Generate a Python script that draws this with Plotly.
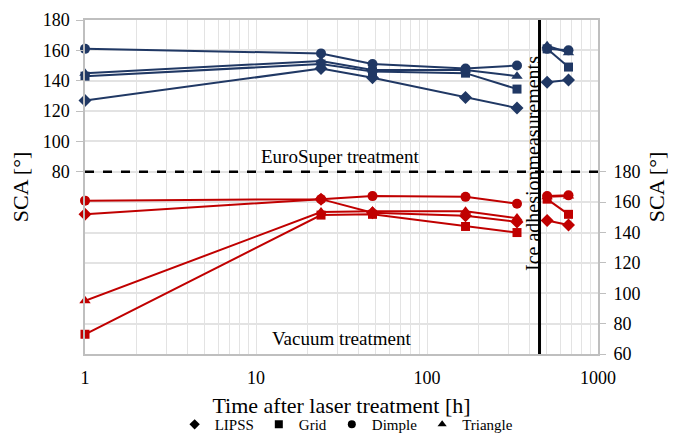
import plotly.graph_objects as go

times_pre = [1, 24, 48, 168, 336]
times_post = [504, 672]

euro_lipss_pre = [127, 148, 142, 129, 122]
euro_lipss_post = [139, 140.5]
euro_grid_pre = [143, 151, 146, 145, 134.5]
euro_grid_post = [161, 149]
euro_dimple_pre = [161, 158, 151, 148, 150]
euro_dimple_post = [161, 160]
euro_triangle_pre = [145, 153, 147, 147, 143]
euro_triangle_post = [163, 158.5]

vac_lipss_pre = [152, 162, 153, 151, 147]
vac_lipss_post = [148, 145]
vac_grid_pre = [73, 151.5, 152, 144, 140]
vac_grid_post = [162, 152]
vac_dimple_pre = [161, 162, 164, 163.5, 159]
vac_dimple_post = [164, 164.5]
vac_triangle_pre = [95, 153.5, 154, 154, 149.5]
vac_triangle_post = [163.5, 164]

series_names = ["LIPSS", "Grid", "Dimple", "Triangle"]
symbols = {"LIPSS": "diamond", "Grid": "square", "Dimple": "circle", "Triangle": "triangle-up"}
sizes = {"LIPSS": 10, "Grid": 9, "Dimple": 10, "Triangle": 10}

ice_time = 455
x_ticks = [1, 10, 100, 1000]
left_ticks = [80, 100, 120, 140, 160, 180]
right_ticks = [60, 80, 100, 120, 140, 160, 180]

BLUE = "#203864"
RED = "#C00000"
FONT = "Liberation Serif"

euro = {
    "LIPSS": (euro_lipss_pre, euro_lipss_post),
    "Grid": (euro_grid_pre, euro_grid_post),
    "Dimple": (euro_dimple_pre, euro_dimple_post),
    "Triangle": (euro_triangle_pre, euro_triangle_post),
}
vac = {
    "LIPSS": (vac_lipss_pre, vac_lipss_post),
    "Grid": (vac_grid_pre, vac_grid_post),
    "Dimple": (vac_dimple_pre, vac_dimple_post),
    "Triangle": (vac_triangle_pre, vac_triangle_post),
}

fig = go.Figure()

for data, color, yax in [(vac, RED, "y2"), (euro, BLUE, "y")]:
    for name in series_names:
        pre, post = data[name]
        for xs, ys in [(times_pre, pre), (times_post, post)]:
            fig.add_trace(go.Scatter(
                x=xs, y=ys, yaxis=yax, mode="lines+markers",
                line=dict(color=color, width=2),
                marker=dict(symbol=symbols[name], size=sizes[name], color=color),
                showlegend=False, hoverinfo="skip", cliponaxis=False,
            ))

for name in series_names:
    fig.add_trace(go.Scatter(
        x=[None], y=[None], mode="markers", name=name,
        marker=dict(symbol=symbols[name], size=8, color="black"),
    ))

minor_vals = [m * 10 ** d for d in range(3) for m in range(2, 10)]

fig.update_layout(
    width=668, height=428,
    margin=dict(l=77, r=78, t=12, b=82, autoexpand=False),
    plot_bgcolor="white", paper_bgcolor="white",
    font=dict(family=FONT, size=18, color="black"),
    xaxis=dict(
        type="log", range=[0, 3], automargin=False,
        tickvals=x_ticks, ticktext=[str(v) for v in x_ticks],
        showgrid=True, gridcolor="#E3E3E3", gridwidth=1,
        minor=dict(tickvals=minor_vals, showgrid=True, gridcolor="#E3E3E3", ticks=""),
        showline=True, linecolor="#BFBFBF", linewidth=1.5, mirror=True,
        ticks="", ticklabelstandoff=7, zeroline=False,
        title=dict(text="Time after laser treatment [h]", font=dict(size=22), standoff=10),
    ),
    yaxis=dict(
        range=[-40, 180], tickvals=left_ticks, automargin=False,
        showgrid=True, gridcolor="#E3E3E3", gridwidth=1.5,
        showline=True, linecolor="#BFBFBF", linewidth=1.5, mirror=True,
        ticks="outside", ticklen=7, tickcolor="#BFBFBF", zeroline=False,
        ticklabelstandoff=3,
        title=dict(text="SCA [°]", font=dict(size=22), standoff=11),
    ),
    yaxis2=dict(
        range=[60, 280], tickvals=right_ticks, overlaying="y", side="right",
        automargin=False,
        showgrid=True, gridcolor="#E3E3E3", gridwidth=1.5,
        ticks="outside", ticklen=7, tickcolor="#BFBFBF", zeroline=False,
        ticklabelstandoff=4,
        title=dict(text="SCA [°]", font=dict(size=22), standoff=9),
    ),
    legend=dict(
        orientation="h", x=0.51, xanchor="center", y=-0.162, yanchor="top",
        font=dict(size=15, family=FONT), itemwidth=30, bgcolor="rgba(0,0,0,0)",
        tracegroupgap=0,
    ),
    shapes=[
        dict(type="line", xref="paper", x0=0, x1=1, yref="y", y0=80, y1=80,
             line=dict(color="black", width=2.5, dash="dash")),
        dict(type="line", xref="x", x0=ice_time, x1=ice_time, yref="paper", y0=0, y1=1,
             line=dict(color="black", width=3)),
    ],
    annotations=[
        dict(text="EuroSuper treatment", xref="paper", yref="paper", x=0.497, y=0.59,
             xanchor="center", yanchor="middle", showarrow=False, font=dict(size=19)),
        dict(text="Vacuum treatment", xref="paper", yref="paper", x=0.5, y=0.045,
             xanchor="center", yanchor="middle", showarrow=False, font=dict(size=19)),
        dict(text="Ice adhesionmeasurements", xref="paper", yref="paper", x=0.872, y=0.57,
             xanchor="center", yanchor="middle",
             showarrow=False, textangle=-90, font=dict(size=20)),
    ],
)

fig.write_html("out.html")
